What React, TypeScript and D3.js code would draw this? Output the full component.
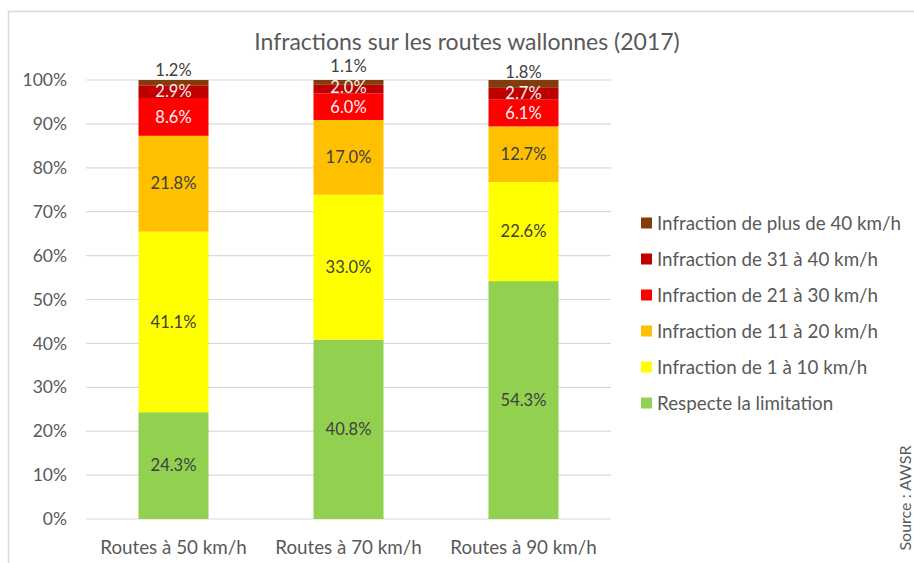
import React from "react";
import * as d3 from "d3";

const categories = ["Routes à 50 km/h", "Routes à 70 km/h", "Routes à 90 km/h"];
const seriesNames = [
  "Respecte la limitation",
  "Infraction de 1 à 10 km/h",
  "Infraction de 11 à 20 km/h",
  "Infraction de 21 à 30 km/h",
  "Infraction de 31 à 40 km/h",
  "Infraction de plus de 40 km/h",
];
const respecte = [24.3, 40.8, 54.3];
const inf1_10 = [41.1, 33.0, 22.6];
const inf11_20 = [21.8, 17.0, 12.7];
const inf21_30 = [8.6, 6.0, 6.1];
const inf31_40 = [2.9, 2.0, 2.7];
const inf40plus = [1.2, 1.1, 1.8];
const yTicks = [0, 10, 20, 30, 40, 50, 60, 70, 80, 90, 100];
const title = "Infractions sur les routes wallonnes (2017)";
const source = "Source : AWSR";

const seriesValues = [respecte, inf1_10, inf11_20, inf21_30, inf31_40, inf40plus];
const colors = ["#92D050", "#FFFF00", "#FFC000", "#FF0000", "#C00000", "#843C0C"];
const labelColors = ["#404040", "#404040", "#404040", "#F2F2F2", "#F2F2F2", "#404040"];

const FONT = "Lato, 'Open Sans', sans-serif";

export default function App() {
  const W = 914, H = 563;
  const left = 86, right = 611, top = 80, bottom = 519;

  const x = d3.scaleBand().domain(categories).range([left, right]).paddingInner(0.6).paddingOuter(0.3);
  const y = d3.scaleLinear().domain([0, 100]).range([bottom, top]);

  const rows = categories.map((c, i) => {
    const r: any = { cat: c };
    seriesNames.forEach((s, j) => (r[s] = seriesValues[j][i]));
    return r;
  });
  const stack = d3.stack().keys(seriesNames).offset(d3.stackOffsetExpand);
  const stacked = stack(rows);

  const labelPos: number[][] = stacked.map((s) => s.map((d) => y(((d[0] + d[1]) / 2) * 100)));
  const n = seriesNames.length;
  categories.forEach((_, i) => {
    for (let j = 1; j < n; j++) {
      const gap = j === n - 1 ? 21 : 19.5;
      labelPos[j][i] = Math.min(labelPos[j][i], labelPos[j - 1][i] - gap);
    }
  });

  const fmt = (v: number) => v.toFixed(1) + "%";

  return (
    <svg width={W} height={H} style={{ position: "absolute", left: 0, top: 0, background: "#fff" }} fontFamily={FONT}>
      <rect x={8.5} y={11.5} width={W + 10} height={H + 20} fill="#fff" stroke="#D9D9D9" strokeWidth={1.5} />
      <text x={467} y={50} textAnchor="middle" fontSize={23} fill="#595959">{title}</text>
      {yTicks.map((t) => (
        <g key={t}>
          <line x1={left} x2={right} y1={y(t)} y2={y(t)} stroke="#D9D9D9" strokeWidth={1.2} />
          <text x={67} y={y(t)} dy="0.35em" textAnchor="end" fontSize={17.5} fill="#595959">{t}%</text>
        </g>
      ))}
      {stacked.map((s, j) => (
        <g key={s.key}>
          {s.map((d, i) => (
            <rect key={i} x={x(categories[i])} width={x.bandwidth()} y={y(d[1] * 100)} height={y(d[0] * 100) - y(d[1] * 100)} fill={colors[j]} />
          ))}
        </g>
      ))}
      {stacked.map((s, j) => (
        <g key={"l" + s.key}>
          {s.map((d, i) => (
            <text key={i} x={(x(categories[i]) as number) + x.bandwidth() / 2} y={labelPos[j][i]} dy="0.35em" textAnchor="middle" fontSize={16.5} fill={labelColors[j]}>
              {fmt(seriesValues[j][i])}
            </text>
          ))}
        </g>
      ))}
      {categories.map((c) => (
        <text key={c} x={(x(c) as number) + x.bandwidth() / 2} y={547} dy="0.35em" textAnchor="middle" fontSize={18.8} fill="#595959">{c}</text>
      ))}
      {seriesNames.slice().reverse().map((s, k) => {
        const j = n - 1 - k;
        const ly = 223 + k * 36;
        return (
          <g key={s}>
            <rect x={641} y={ly - 5.5} width={11} height={11} fill={colors[j]} />
            <text x={657} y={ly} dy="0.35em" fontSize={18.8} fill="#595959">{s}</text>
          </g>
        );
      })}
      <text transform="translate(905,498) rotate(-90)" textAnchor="middle" dy="0.35em" fontSize={16} fill="#595959">{source}</text>
    </svg>
  );
}
